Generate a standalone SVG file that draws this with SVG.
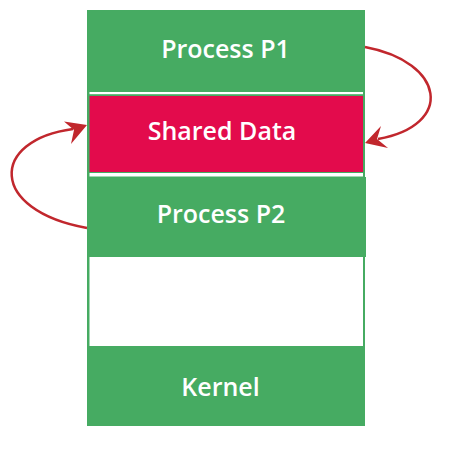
<svg xmlns="http://www.w3.org/2000/svg" width="453" height="450" viewBox="0 0 453 450">
  <style>
    .green { fill: #46AB62; }
    .red { fill: #E30B4C; }
    .white { fill: #FFFFFF; }
    .label { font-family: "Open Sans", Lato, sans-serif; font-weight: 600; font-size: 25px; fill: #FFFFFF; text-anchor: middle; }
    .conn { fill: none; stroke: #C1272D; stroke-width: 2.5; }
    .head { fill: #C1272D; }
  </style>
  <rect width="453" height="450" fill="#FFFFFF"/>
  <g id="column">
    <rect class="green" x="87" y="10" width="278" height="416"/>
  </g>
  <g id="process-p1">
    <rect class="green" x="87" y="10" width="278" height="82"/>
    <text class="label" x="225.5" y="58">Process P1</text>
  </g>
  <rect class="white" x="89.5" y="92" width="273.5" height="2.2"/>
  <g id="shared-data">
    <rect class="red" x="89.5" y="96" width="273.5" height="76"/>
    <text class="label" x="222" y="140">Shared Data</text>
  </g>
  <rect class="white" x="89.5" y="173" width="273.5" height="3.5"/>
  <g id="process-p2">
    <rect class="green" x="87" y="177" width="279" height="80"/>
    <text class="label" x="221" y="223">Process P2</text>
  </g>
  <g id="free-space">
    <rect class="white" x="89.5" y="257" width="273.5" height="89"/>
  </g>
  <g id="kernel">
    <rect class="green" x="87" y="346" width="278" height="80"/>
    <text class="label" x="220.5" y="396">Kernel</text>
  </g>
  <g id="connectors">
    <path class="conn" d="M365,47 C445,62 455,125 378,139"/>
    <polygon class="head" points="365,143 381,126 377,139 388,148"/>
    <path class="conn" d="M87,228 C-12,210 -10,140 73,129"/>
    <polygon class="head" points="87,125 64,121.5 74,130 71,144"/>
  </g>
</svg>
